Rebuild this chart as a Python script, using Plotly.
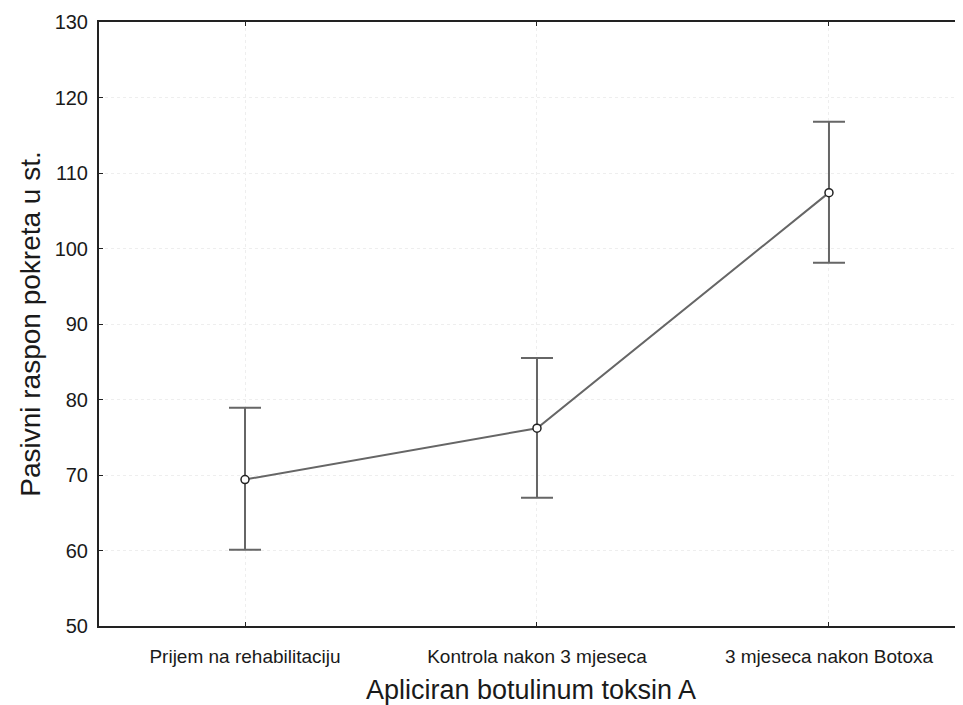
import plotly.graph_objects as go

categories = ["Prijem na rehabilitaciju", "Kontrola nakon 3 mjeseca", "3 mjeseca nakon Botoxa"]
means = [69.4, 76.2, 107.4]
upper = [78.9, 85.5, 116.8]
lower = [60.1, 67.0, 98.1]
y_ticks = [50, 60, 70, 80, 90, 100, 110, 120, 130]

err_plus = [u - m for u, m in zip(upper, means)]
err_minus = [m - l for m, l in zip(means, lower)]

xs = list(range(len(categories)))

fig = go.Figure()
fig.add_trace(go.Scatter(
    x=xs, y=means, mode="lines+markers",
    line=dict(color="#666666", width=2),
    marker=dict(symbol="circle", size=8, color="white",
                line=dict(color="#222222", width=1.5)),
    error_y=dict(type="data", symmetric=False, array=err_plus, arrayminus=err_minus,
                 color="#666666", thickness=2, width=16),
    showlegend=False,
))

fig.update_layout(
    width=955, height=697,
    margin=dict(l=91, r=0, t=14, b=79),
    paper_bgcolor="white", plot_bgcolor="white",
    font=dict(family="Liberation Sans, Arial, sans-serif", color="#1a1a1a"),
    xaxis=dict(
        range=[-0.5, 2.459], tickmode="array", tickvals=xs, ticktext=categories,
        showline=True, linecolor="#222222", linewidth=2, mirror="ticks",
        ticks="inside", ticklen=4, tickcolor="#222222",
        showgrid=True, gridcolor="#eeeeee", griddash="dot", gridwidth=1,
        tickfont=dict(size=19), ticklabelstandoff=12, zeroline=False,
        title=dict(text="Apliciran botulinum toksin A", font=dict(size=27), standoff=16),
    ),
    yaxis=dict(
        range=[50, 130], tickvals=y_ticks,
        showline=True, linecolor="#222222", linewidth=2,
        ticks="inside", ticklen=4, tickcolor="#222222",
        showgrid=True, gridcolor="#eeeeee", griddash="dot", gridwidth=1,
        tickfont=dict(size=20), ticklabelstandoff=5, zeroline=False,
        title=dict(text="Pasivni raspon pokreta u st.", font=dict(size=28), standoff=6),
    ),
)

fig.write_html("out.html")
